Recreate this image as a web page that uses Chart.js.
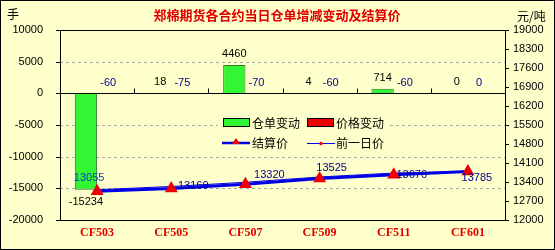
<!DOCTYPE html>
<html>
<head>
<meta charset="utf-8">
<script src="https://cdn.jsdelivr.net/npm/chart.js@4/dist/chart.umd.min.js"></script>
<style>
  html, body { margin: 0; padding: 0; background: #FFFFCC; }
  #wrap { width: 555px; height: 250px; position: relative; }
</style>
</head>
<body>
<div id="wrap"><canvas id="cfChart" width="555" height="250"></canvas></div>
<script>
// data
const contracts = ['CF503', 'CF505', 'CF507', 'CF509', 'CF511', 'CF601'];
const warrantChange = [-15234, 18, 4460, 4, 714, 0];   // 仓单变动 (手)
const priceChange = [-60, -75, -70, -60, -60, 0];       // 价格变动
const settlePrice = [13055, 13160, 13320, 13525, 13670, 13785]; // 结算价
const prevPrice = [13115, 13235, 13390, 13585, 13730, 13785];   // 前一日价
const leftTicks = [10000, 5000, 0, -5000, -10000, -15000, -20000];

// label nudges for the price line (style only)
const priceLabelOffsets = [[-8, -13], [22, -3], [24, -9], [12, -11], [18, 0], [9, 6]];

const BG = '#FFFFCC';
const GREEN = '#33F533';
const RED = '#EE0000';
const BLUE = '#0000E6';
const NAVY = '#00008C';

const chartDecor = {
  id: 'chartDecor',
  beforeDatasetsDraw(chart) {
    const { ctx, chartArea: a, scales } = chart;
    const y = scales.y, y1 = scales.y1;
    ctx.save();
    // dashed grid lines
    ctx.strokeStyle = '#A8A8A8';
    ctx.lineWidth = 1;
    ctx.setLineDash([3, 3]);
    leftTicks.forEach(v => {
      if (v === 10000 || v === 0 || v === -20000) return;
      const py = Math.round(y.getPixelForValue(v)) + 0.5;
      ctx.beginPath(); ctx.moveTo(a.left, py); ctx.lineTo(a.right, py); ctx.stroke();
    });
    ctx.setLineDash([]);
    // frame
    ctx.strokeStyle = '#000';
    ctx.strokeRect(Math.round(a.left) + 0.5, Math.round(a.top) + 0.5,
      Math.round(a.right - a.left), Math.round(a.bottom - a.top));
    // left tick marks
    leftTicks.forEach(v => {
      const py = Math.round(y.getPixelForValue(v)) + 0.5;
      ctx.beginPath(); ctx.moveTo(a.left - 4, py); ctx.lineTo(a.left, py); ctx.stroke();
    });
    // right tick marks
    for (let v = 12000; v <= 19000; v += 700) {
      const py = Math.round(y1.getPixelForValue(v)) + 0.5;
      ctx.beginPath(); ctx.moveTo(a.right, py); ctx.lineTo(a.right + 4, py); ctx.stroke();
    }
    ctx.restore();
  },
  afterDatasetsDraw(chart) {
    const { ctx, chartArea: a, scales } = chart;
    const y = scales.y;
    ctx.save();
    // zero line + category ticks
    const zy = Math.round(y.getPixelForValue(0)) + 0.5;
    ctx.strokeStyle = '#000';
    ctx.lineWidth = 1;
    ctx.beginPath(); ctx.moveTo(a.left, zy); ctx.lineTo(a.right, zy); ctx.stroke();
    const step = (a.right - a.left) / contracts.length;
    for (let k = 1; k < contracts.length; k++) {
      const px = Math.round(a.left + step * k) + 0.5;
      ctx.beginPath(); ctx.moveTo(px, zy); ctx.lineTo(px, zy - 5); ctx.stroke();
    }

    // data labels
    ctx.font = '11px "Liberation Sans", Arial, sans-serif';
    ctx.textAlign = 'center';
    ctx.textBaseline = 'middle';
    const m0 = chart.getDatasetMeta(0), m1 = chart.getDatasetMeta(1), m2 = chart.getDatasetMeta(2);
    warrantChange.forEach((v, i) => {
      const el = m0.data[i];
      ctx.fillStyle = '#000';
      if (v < 0) ctx.fillText(String(v), el.x, el.y + 12);
      else ctx.fillText(String(v), el.x, Math.min(el.y, zy) - 11);
    });
    priceChange.forEach((v, i) => {
      const el = m1.data[i];
      ctx.fillStyle = NAVY;
      ctx.fillText(String(v), el.x, zy - 11);
    });
    settlePrice.forEach((v, i) => {
      const el = m2.data[i];
      const [dx, dy] = priceLabelOffsets[i];
      ctx.fillStyle = i === 0 ? '#1040C0' : NAVY;
      ctx.fillText(String(v), el.x + dx, el.y + dy);
    });

    // legend box
    const lx = 218, ly = 113;
    ctx.fillStyle = BG;
    ctx.fillRect(lx, ly, 170, 40);
    ctx.font = '12px "Noto Sans CJK SC", sans-serif';
    ctx.textAlign = 'left';
    ctx.fillStyle = GREEN; ctx.fillRect(223, 118, 26, 8);
    ctx.strokeStyle = '#000'; ctx.strokeRect(223.5, 118.5, 26, 8);
    ctx.fillStyle = RED; ctx.fillRect(307, 118, 26, 8);
    ctx.strokeRect(307.5, 118.5, 26, 8);
    ctx.fillStyle = '#000';
    ctx.fillText('仓单变动', 252, 123);
    ctx.fillText('价格变动', 336, 123);
    // settle legend
    ctx.strokeStyle = BLUE; ctx.lineWidth = 2.5;
    ctx.beginPath(); ctx.moveTo(222, 143); ctx.lineTo(250, 143); ctx.stroke();
    ctx.fillStyle = RED;
    ctx.beginPath(); ctx.moveTo(236, 138); ctx.lineTo(240, 144); ctx.lineTo(232, 144); ctx.closePath(); ctx.fill();
    ctx.strokeStyle = BLUE; ctx.lineWidth = 1;
    ctx.beginPath(); ctx.moveTo(307, 143.5); ctx.lineTo(335, 143.5); ctx.stroke();
    ctx.fillStyle = RED;
    ctx.beginPath(); ctx.arc(321, 143.5, 1.8, 0, Math.PI * 2); ctx.fill();
    ctx.fillStyle = '#000';
    ctx.fillText('结算价', 252, 143);
    ctx.fillText('前一日价', 336, 143);

    // title and units
    ctx.textAlign = 'center';
    ctx.font = 'bold 13px "Noto Sans CJK SC", sans-serif';
    ctx.fillStyle = '#E00000';
    ctx.fillText('郑棉期货各合约当日仓单增减变动及结算价', 277, 15);
    ctx.font = '12px "Noto Sans CJK SC", sans-serif';
    ctx.fillStyle = '#000';
    ctx.textAlign = 'left';
    ctx.fillText('手', 7, 14);
    ctx.fillText('元/吨', 517, 16);

    // outer border
    ctx.strokeStyle = '#000';
    ctx.strokeRect(0.5, 0.5, chart.width - 1, chart.height - 1);
    ctx.restore();
  }
};

const plainTick = v => String(v);

new Chart(document.getElementById('cfChart'), {
  data: {
    labels: contracts,
    datasets: [
      {
        type: 'bar', label: '仓单变动', data: warrantChange, yAxisID: 'y', order: 2,
        backgroundColor: GREEN, borderColor: '#2A7A2A', borderWidth: 1,
        categoryPercentage: 0.6, barPercentage: 1
      },
      {
        type: 'bar', label: '价格变动', data: priceChange, yAxisID: 'y', order: 2,
        backgroundColor: RED, borderWidth: 0,
        categoryPercentage: 0.6, barPercentage: 1
      },
      {
        type: 'line', label: '结算价', data: settlePrice, yAxisID: 'y1', order: 0,
        borderColor: BLUE, borderWidth: 3, pointStyle: 'triangle', pointRadius: 4.5,
        pointBackgroundColor: RED, pointBorderColor: RED, tension: 0
      },
      {
        type: 'line', label: '前一日价', data: prevPrice, yAxisID: 'y1', order: 1,
        borderColor: BLUE, borderWidth: 1, pointRadius: 2,
        pointBackgroundColor: RED, pointBorderColor: RED, tension: 0
      }
    ]
  },
  options: {
    responsive: false,
    animation: false,
    layout: { padding: { top: 30, left: 0, right: 0, bottom: 0 } },
    plugins: {
      legend: { display: false },
      tooltip: { enabled: false },
      title: { display: false }
    },
    scales: {
      x: {
        grid: { display: false, drawTicks: false },
        border: { display: false },
        ticks: {
          color: '#E00000', padding: 6,
          font: { family: '"Liberation Serif", serif', size: 12, weight: 'bold' }
        },
        afterFit(s) { s.height = 30; }
      },
      y: {
        position: 'left', min: -20000, max: 10000,
        grid: { display: false, drawTicks: false },
        border: { display: false },
        ticks: {
          stepSize: 5000, color: '#000', padding: 17, callback: plainTick,
          font: { family: '"Liberation Sans", Arial, sans-serif', size: 11 }
        },
        afterFit(s) { s.width = 60; }
      },
      y1: {
        position: 'right', min: 12000, max: 19000,
        grid: { display: false, drawTicks: false },
        border: { display: false },
        ticks: {
          stepSize: 700, color: '#000', padding: 8, callback: plainTick,
          font: { family: '"Liberation Sans", Arial, sans-serif', size: 11 }
        },
        afterFit(s) { s.width = 50; }
      }
    }
  },
  plugins: [chartDecor]
});
</script>
</body>
</html>
